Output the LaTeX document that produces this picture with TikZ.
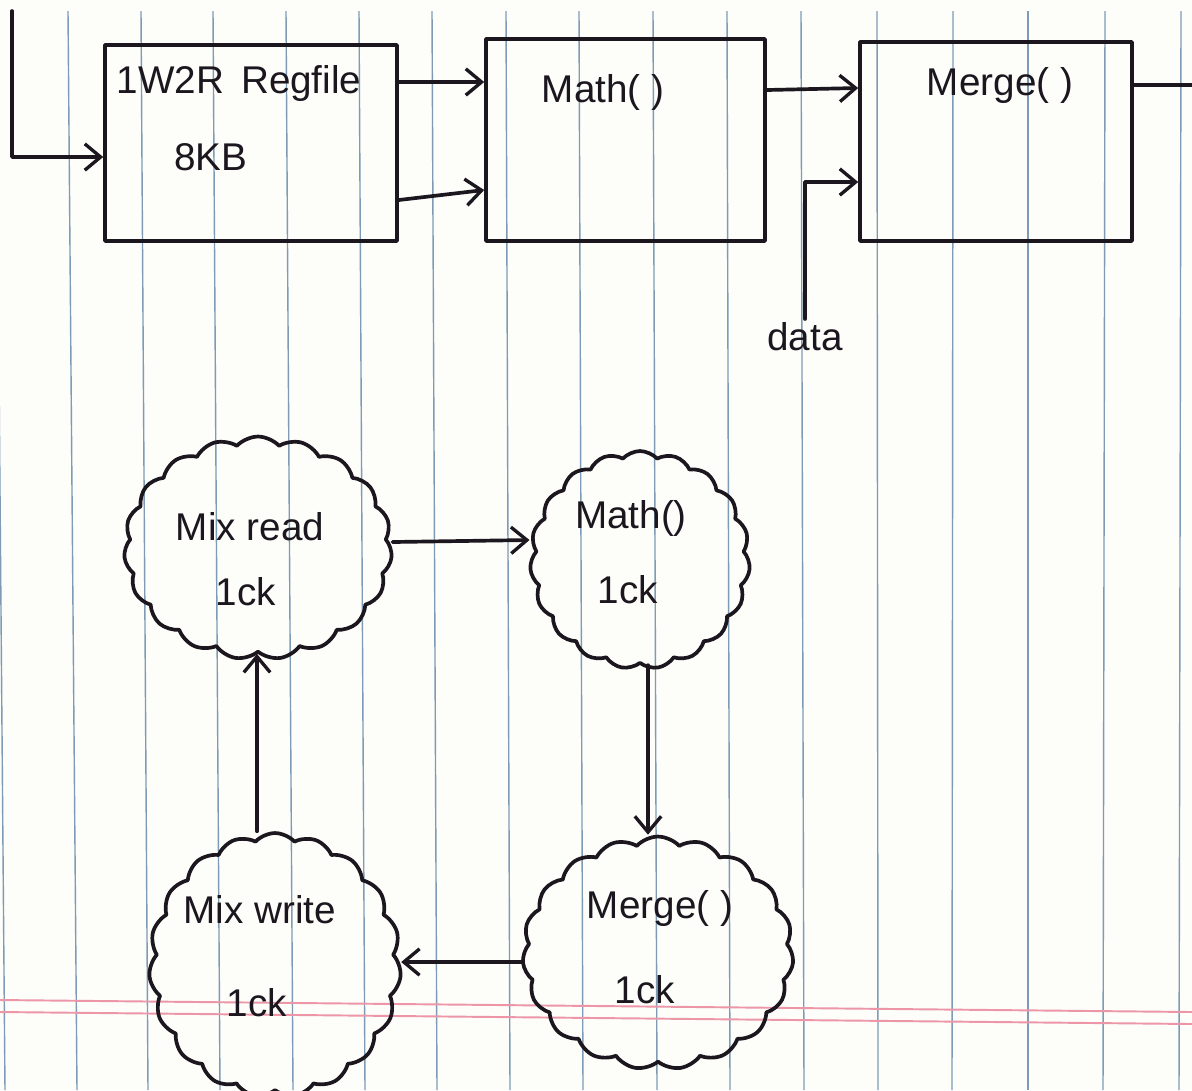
\documentclass[tikz,border=0pt]{standalone}
\usepackage{fontspec}
\setmainfont{Liberation Sans}
\usetikzlibrary{arrows.meta,shapes.symbols}
\definecolor{ink}{RGB}{28,22,30}
\definecolor{rule}{RGB}{125,155,180}
\definecolor{margin}{RGB}{236,150,168}
\definecolor{paper}{RGB}{253,253,250}

\begin{document}
\begin{tikzpicture}[x=0.02cm,y=-0.02cm,
  ink/.style={draw=ink,line width=2.1pt,line cap=round,line join=round},
  arr/.style={ink,-{Straight Barb[length=9pt,width=15pt,line width=1.9pt]}},
  blk/.style={ink,rectangle,inner sep=0pt},
  puff/.style={ink,cloud,cloud puffs=19,cloud puff arc=95,cloud ignores aspect,inner sep=0pt},
  hand/.style={text=ink,font=\fontsize{22}{24}\selectfont,inner sep=2pt}]

\useasboundingbox (0,0) rectangle (1192,1090);
\fill[paper] (0,0) rectangle (1192,1090);
\clip (0,0) rectangle (1192,1090);

% ruled notebook paper
\foreach \a/\b in {-4/5,68/77,141/148,213/220,286/293,359/365,432/437,506/510,579/583,653/657,727/730,801/804,877/878,953/952,1028/1028,1105/1103,1181/1179}
  \draw[rule,line width=0.8pt] (\a,11) -- (\b,1090);
\draw[margin,line width=1.1pt] (0,1000) -- (1192,1012);
\draw[margin,line width=1.1pt] (0,1012) -- (1192,1024);

% pipeline blocks
\node[blk,minimum width=5.84cm,minimum height=3.92cm] (reg) at (251,143) {};
\node[hand] (regname) at (239,83) {1W2R\, Regfile};
\node[hand] (regsize) at (211,157) {8KB};
\node[blk,minimum width=5.58cm,minimum height=4.04cm] (mathbox) at (625.5,140) {};
\node[hand] (mathname) at (603,92) {Math( )};
\node[blk,minimum width=5.44cm,minimum height=3.98cm] (mergebox) at (996,141.5) {};
\node[hand] (mergename) at (1000,85) {Merge( )};
\node[hand] (datalbl) at (805,337) {data};

\coordinate (feed) at (12,11);
\coordinate (out) at (1200,85);

\draw[arr] (feed) |- (reg.west |- 0,157);
\draw[arr] (reg.east |- 0,82) -- (mathbox.west |- 0,82);
\draw[arr] (reg.east |- 0,200) -- (mathbox.west |- 0,190);
\draw[arr] (mathbox.east |- 0,90) -- (mergebox.west |- 0,88);
\draw[arr] (datalbl.north) |- (mergebox.west |- 0,182);
\draw[ink] (mergebox.east |- 0,85) -- (out);

% one-cycle stages
\node[puff,minimum width=5.36cm,minimum height=4.46cm] (mixread) at (258,548) {};
\node[hand] (mixreadname) at (250,527) {Mix read};
\node[hand] (mixreadck) at (246,592) {1ck};
\node[puff,minimum width=4.4cm,minimum height=4.36cm] (mathc) at (640,560) {};
\node[hand] (mathcname) at (631,518) {Math()};
\node[hand] (mathcck) at (628,590) {1ck};
\node[puff,minimum width=5.42cm,minimum height=4.66cm] (mergec) at (658,953) {};
\node[hand] (mergecname) at (660,908) {Merge( )};
\node[hand] (mergecck) at (645,990) {1ck};
\node[puff,minimum width=5.04cm,minimum height=5.28cm] (mixwrite) at (275,965) {};
\node[hand] (mixwritename) at (260,910) {Mix write};
\node[hand] (mixwriteck) at (257,1003) {1ck};

\coordinate (colL) at (257,0);
\coordinate (colR) at (648,0);

\draw[arr] (mixread.east |- 0,542) -- (mathc.west |- 0,540);
\draw[arr] (colR |- mathc.south) -- (colR |- mergec.north);
\draw[arr] (mergec.west |- 0,962) -- (mixwrite.east |- 0,962);
\draw[arr] (colL |- mixwrite.north) -- (colL |- mixread.south);
\end{tikzpicture}
\end{document}
